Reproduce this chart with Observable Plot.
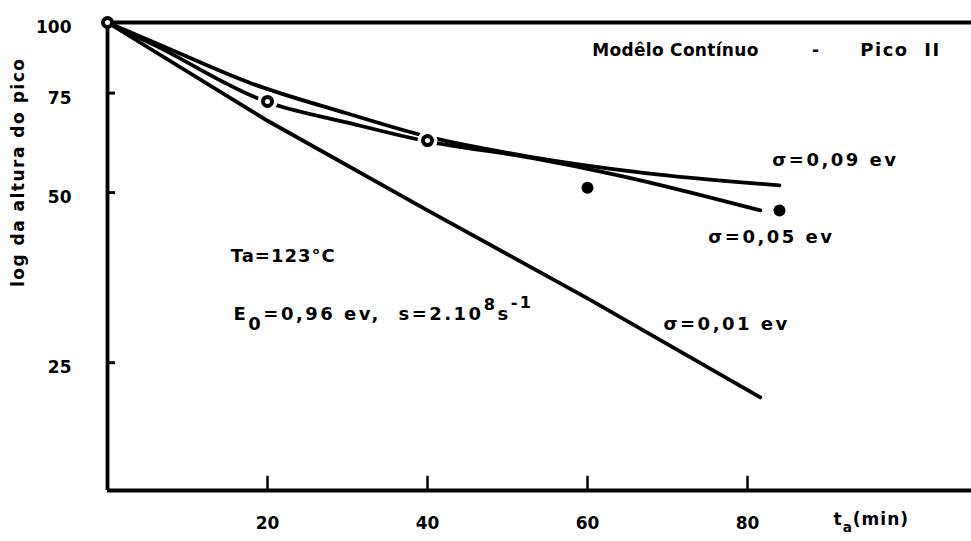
<!DOCTYPE html>
<html>
<head>
<meta charset="utf-8">
<script src="https://cdn.jsdelivr.net/npm/d3@7"></script>
<script src="https://cdn.jsdelivr.net/npm/@observablehq/plot@0.6"></script>
<style>
  body { margin: 0; background: #fff; }
  #chart svg { display: block; }
  #chart text { font-family: "DejaVu Sans", sans-serif; font-weight: bold; }
</style>
</head>
<body>
<div id="chart"></div>
<script>
// Peak height (log scale) against annealing time — continuous model, peak II
const xTicks = [20, 40, 60, 80];
const yTicks = [25, 50, 75, 100];

// measured peak heights
const expTime = [0, 20, 40, 60, 84];
const expHeight = [100, 72.5, 61.8, 51, 46.5];
const expOpen = [true, true, true, false, false];

// model curves for three distribution widths
const time001 = [0, 20, 40, 60, 81.6];
const height001 = [100, 67, 46.5, 32.5, 21.7];

const time005 = [0, 6, 19.75, 30, 39.5, 53, 64, 81.6];
const height005 = [100, 91, 72.5, 66.5, 61.8, 57.6, 53.6, 46.5];

const time009 = [0, 6, 18, 30, 40, 53, 67, 84];
const height009 = [100, 92, 78, 69, 62.8, 57.8, 54.2, 51.5];

const xDomain = [0, 108];
const yDomain = [14.85, 100];

const zip = (t, h) => t.map((d, i) => ({t: d, h: h[i]}));
const points = expTime.map((d, i) => ({t: d, h: expHeight[i], open: expOpen[i]}));

const lw = 3.8;
const font = 17;
const noteFont = 18;

const note = (s, x, y, anchor = "start", size = noteFont) =>
  Plot.text([s], {x, y, text: d => d, textAnchor: anchor, fontSize: size});

const plot = Plot.plot({
  width: 971,
  height: 541,
  marginLeft: 107,
  marginRight: 0,
  marginTop: 22,
  marginBottom: 51,
  x: {domain: xDomain, axis: null},
  y: {type: "log", domain: yDomain, axis: null},
  style: {background: "#fff", color: "#000", fontSize: font + "px"},
  marks: [
    // frame: left axis, top and bottom rules
    Plot.ruleX([0], {strokeWidth: lw}),
    Plot.ruleY([yDomain[0], 100], {strokeWidth: lw}),
    // inward tick marks
    Plot.ruleY(yTicks.filter(d => d < 100), {x1: 0, x2: 1, strokeWidth: 3}),
    Plot.ruleX(xTicks, {y1: yDomain[0], y2: yDomain[0] * 1.06, strokeWidth: 2.5}),
    // model curves
    Plot.line(zip(time001, height001), {x: "t", y: "h", strokeWidth: lw, curve: "linear"}),
    Plot.line(zip(time005, height005), {x: "t", y: "h", strokeWidth: lw, curve: "monotone-x"}),
    Plot.line(zip(time009, height009), {x: "t", y: "h", strokeWidth: lw, curve: "monotone-x"}),
    // white gaps around the measured points sitting on the curves
    Plot.dot(points.filter(d => d.t > 0 && d.open), {x: "t", y: "h", r: 10, fill: "#fff", stroke: null}),
    // measured points
    Plot.dot(points.filter(d => d.open), {x: "t", y: "h", r: 4.5, fill: "#fff", stroke: "#000", strokeWidth: 4}),
    Plot.dot(points.filter(d => !d.open), {x: "t", y: "h", r: 6, fill: "#000"}),
    // tick labels
    Plot.text(yTicks, {x: 0, y: d => d, text: d => String(d), dx: -36, dy: 5, textAnchor: "end", fontSize: font}),
    Plot.text(xTicks, {x: d => d, y: yDomain[0], text: d => String(d), dy: 33, fontSize: font}),
    Plot.text(["ta(min)"], {x: 90.75, y: yDomain[0], text: d => d, dy: 29, textAnchor: "start", fontSize: font}),
    // y axis title
    Plot.text(["log da altura do pico"], {x: 0, y: 54.3, text: d => d, rotate: -90, dx: -89, fontSize: font}),
    // annotations
    note("Modêlo Contínuo", 60.6, 89.2, "start", 17),
    note("-", 88.5, 89.2, "middle", 17),
    note("Pico II", 94.1, 89.2, "start", 18),
    note("σ=0,09 ev", 83.1, 57),
    note("σ=0,05 ev", 75.1, 41.6),
    note("σ=0,01 ev", 69.5, 29.3),
    note("Ta=123°C", 15.4, 38.5),
    note("E0=0,96 ev,  s=2.108s-1", 15.75, 30.5)
  ]
});

document.getElementById("chart").appendChild(plot);

const texts = d3.select(plot).selectAll("text");
const byContent = s => texts.filter(function() { return this.textContent === s; });

// lettering is spaced out a little
for (const s of ["σ=0,09 ev", "σ=0,05 ev", "σ=0,01 ev", "E0=0,96 ev,  s=2.108s-1"]) {
  byContent(s).style("letter-spacing", "2.5px");
}
byContent("Ta=123°C").style("letter-spacing", "1px");
byContent("Modêlo Contínuo").style("letter-spacing", "0.3px");
byContent("Pico II").style("letter-spacing", "1.5px").style("white-space", "pre").text("Pico  II");
byContent("log da altura do pico").style("letter-spacing", "1.5px");

// rebuild a text element from runs: [string, baseline shift in px, size factor]
function richText(content, size, runs) {
  const t = byContent(content);
  t.text(null).style("white-space", "pre");
  let shift = 0;
  for (const [s, dy, k] of runs) {
    t.append("tspan").attr("dy", dy - shift).style("font-size", (size * k) + "px").text(s);
    shift = dy;
  }
}
richText("ta(min)", font, [["t", 0, 1], ["a", 7, 0.8], ["(min)", 0, 1]]);
byContent("ta(min)").style("letter-spacing", "1px");
richText("E0=0,96 ev,  s=2.108s-1", noteFont, [["E", 0, 1], ["0", 10, 1], ["=0,96 ev,  s=2.10", 0, 1], ["8", -10, 0.9], ["s", 0, 1], ["-1", -12, 0.9]]);
</script>
</body>
</html>
